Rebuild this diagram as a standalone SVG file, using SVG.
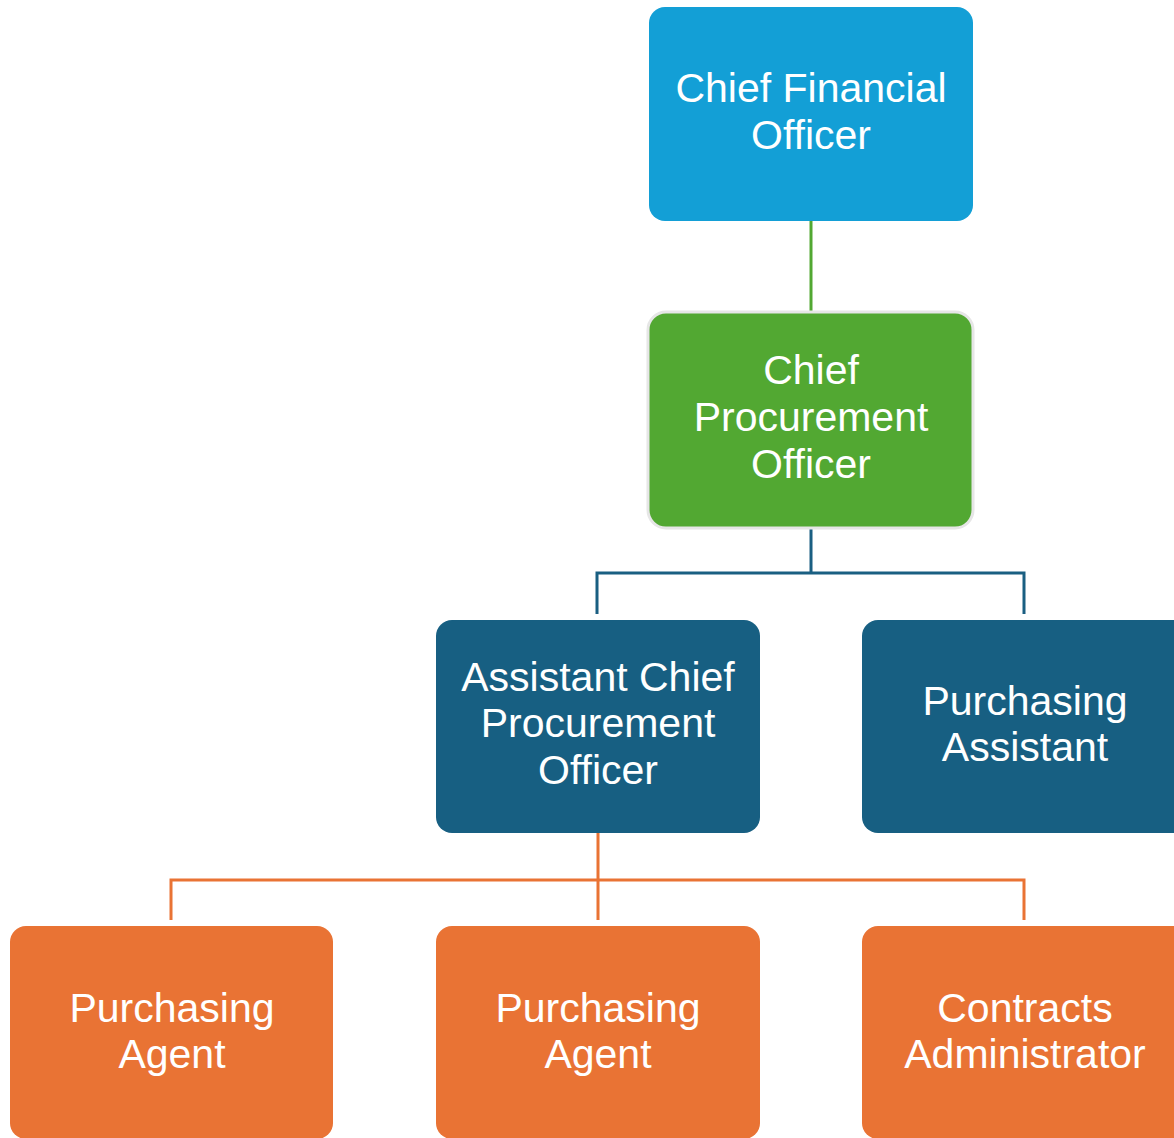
<svg xmlns="http://www.w3.org/2000/svg" width="1174" height="1138" viewBox="0 0 1174 1138">
<style>
.t{font-family:"Liberation Sans",Arial,sans-serif;font-size:41px;fill:#ffffff;text-anchor:middle}
.c{fill:none;stroke-width:3}
</style>
<rect width="1174" height="1138" fill="#ffffff"/>
<g id="connectors">
<path class="c" stroke="#52A832" d="M811 221V311"/>
<path class="c" stroke="#1A5F82" d="M811 528V573M597 614V573H1024V614"/>
<path class="c" stroke="#E97334" d="M598 833V920M171 920V880H1024V920"/>
</g>
<g id="cfo">
<rect x="649" y="7" width="324" height="214" rx="16" fill="#139FD6"/>
<text class="t" x="811" y="102">Chief Financial</text>
<text class="t" x="811" y="149">Officer</text>
</g>
<g id="cpo">
<rect x="648" y="312" width="325" height="216" rx="18" fill="#52A832" stroke="#E6E6E6" stroke-width="3"/>
<text class="t" x="811" y="384">Chief</text>
<text class="t" x="811" y="431">Procurement</text>
<text class="t" x="811" y="478">Officer</text>
</g>
<g id="acpo">
<rect x="436" y="620" width="324" height="213" rx="16" fill="#175F82"/>
<text class="t" x="598" y="691">Assistant Chief</text>
<text class="t" x="598" y="737">Procurement</text>
<text class="t" x="598" y="784">Officer</text>
</g>
<g id="passist">
<rect x="862" y="620" width="330" height="213" rx="16" fill="#175F82"/>
<text class="t" x="1025" y="715">Purchasing</text>
<text class="t" x="1025" y="761">Assistant</text>
</g>
<g id="pagent1">
<rect x="10" y="926" width="323" height="213" rx="16" fill="#E97334"/>
<text class="t" x="172" y="1022">Purchasing</text>
<text class="t" x="172" y="1068">Agent</text>
</g>
<g id="pagent2">
<rect x="436" y="926" width="324" height="213" rx="16" fill="#E97334"/>
<text class="t" x="598" y="1022">Purchasing</text>
<text class="t" x="598" y="1068">Agent</text>
</g>
<g id="contracts">
<rect x="862" y="926" width="330" height="213" rx="16" fill="#E97334"/>
<text class="t" x="1025" y="1022">Contracts</text>
<text class="t" x="1025" y="1068">Administrator</text>
</g>
</svg>
